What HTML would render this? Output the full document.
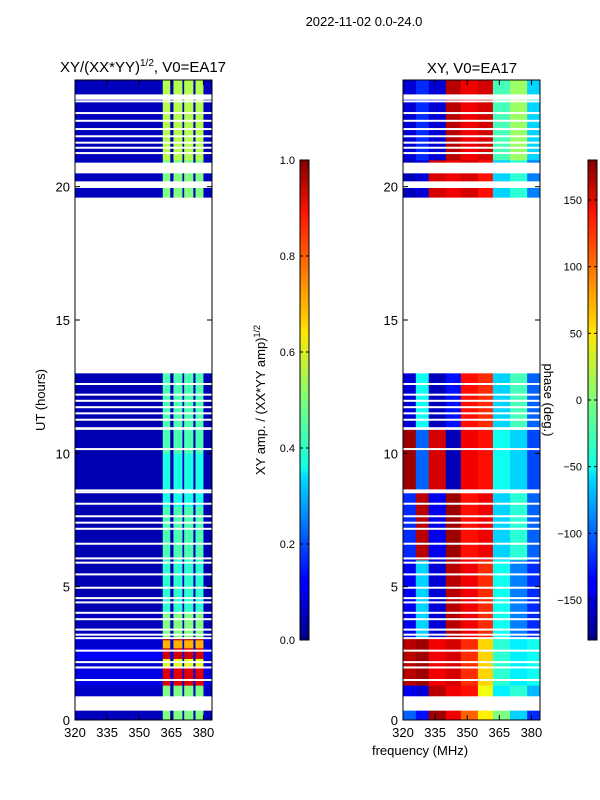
<!DOCTYPE html>
<html><head><meta charset="utf-8"><style>
body{margin:0;background:#fff;}
svg{display:block;font-family:"Liberation Sans","DejaVu Sans",sans-serif;}
</style></head><body>
<svg id="fig" width="600" height="800" viewBox="0 0 600 800">
<defs>
<linearGradient id="jet" x1="0" y1="1" x2="0" y2="0">
<stop offset="0" stop-color="#00007f"/><stop offset="0.11" stop-color="#0000ff"/><stop offset="0.125" stop-color="#0000ff"/>
<stop offset="0.34" stop-color="#00dbff"/><stop offset="0.36" stop-color="#0fffe7"/><stop offset="0.5" stop-color="#7dff7a"/>
<stop offset="0.64" stop-color="#ffe600"/><stop offset="0.66" stop-color="#ffd400"/><stop offset="0.89" stop-color="#ff1300"/>
<stop offset="1" stop-color="#7f0000"/>
</linearGradient>
</defs>
<text x="364" y="26" font-size="13" text-anchor="middle">2022-11-02 0.0-24.0</text>
<text x="143" y="72" font-size="15" text-anchor="middle">XY/(XX*YY)<tspan font-size="10" dy="-6">1/2</tspan><tspan dy="6">, V0=EA17</tspan></text>
<text x="472" y="73" font-size="15" text-anchor="middle">XY, V0=EA17</text>
<text transform="translate(45,400) rotate(-90)" font-size="13" text-anchor="middle">UT (hours)</text>
<text x="420" y="755" font-size="13" text-anchor="middle">frequency (MHz)</text>
<text transform="translate(265,400) rotate(-90)" font-size="13" text-anchor="middle">XY amp. / (XX*YY amp)<tspan font-size="9" dy="-5">1/2</tspan></text>
<g id="left"></g>
<g id="right"></g>
<text transform="translate(544,400) rotate(90)" font-size="13" text-anchor="middle">phase (deg.)</text>
<g id="axes"></g>
<rect x="300" y="160" width="9" height="480" fill="url(#jet)" stroke="#000" stroke-width="1"/>
<rect x="588" y="160" width="9" height="480" fill="url(#jet)" stroke="#000" stroke-width="1"/>
<g id="cb"></g>
</svg>
<script>
// ---- data ----
const ampFreqEdges=[320,361,364.5,366,370.2,371,375.3,376.3,380,384];
const ampSegStart=[0,0.9,1.3,2.0,2.3,2.7,3.0,3.1,4,6,8,10,19.6,21];
const ampSegEnd=[0.35,1.3,2.0,2.3,2.7,3.0,3.1,4,6,8,10,13,21,24];
const ampStripe=[0.5,0.5,0.9,0.6,0.92,0.7,0.95,0.5,0.42,0.45,0.4,0.45,0.5,0.55];
const ampBase=[0.06,0.07,0.1,0.08,0.12,0.08,0.1,0.06,0.05,0.05,0.05,0.05,0.06,0.06];
const phFreqEdges=[320,326,332,340,347,355,362,370,378,384];
const phSegStart=[0,0.9,1.3,3.1,6,8.6,10.9,19.6,21];
const phSegEnd=[0.35,1.3,3.1,6,8.6,10.9,13,21,24];
const phVals=[
[-100,-130,170,140,100,50,0,-60,-120],
[-140,-150,160,140,130,40,-50,-30,-70],
[160,170,140,150,120,60,-30,-50,-40],
[-140,-60,-150,160,140,120,-40,-90,-120],
[-120,160,-140,170,130,140,-60,-30,-100],
[170,-100,150,-160,140,130,-40,-60,-110],
[-150,-40,-160,-130,130,120,-60,-20,-100],
[-160,-150,150,140,150,130,-60,-30,-90],
[-150,-120,-150,160,140,150,-20,10,-60]];
const gapHours=[23.2,22.76,22.47,22.16,21.89,21.65,21.46,21.26,12.6,12.2,11.97,11.73,11.5,11.26,10.16,8.61,8.54,8.11,7.64,7.4,7.17,6.61,6.06,5.9,5.46,4.96,4.57,4.41,4.02,3.78,3.39,3.2,3.07,2.6,2.17,1.97,1.5];
const bigGapStart=[23.26,20.5,19.95,10.88];
const bigGapEnd=[23.46,20.9,20.2,10.98];
const yTicks=[0,5,10,15,20];
const xTicks=[320,335,350,365,380];
const ampCbTicks=[0,0.2,0.4,0.6,0.8,1.0];
const phCbTicks=[-150,-100,-50,0,50,100,150];
// ---- helpers ----
const NS="http://www.w3.org/2000/svg";
function jet(v){v=Math.max(0,Math.min(1,v));
 const r=Math.max(0,Math.min(1,1.5-Math.abs(4*v-3))),g=Math.max(0,Math.min(1,1.5-Math.abs(4*v-2))),b=Math.max(0,Math.min(1,1.5-Math.abs(4*v-1)));
 return `rgb(${Math.round(r*255)},${Math.round(g*255)},${Math.round(b*255)})`;}
const Y=h=>720-h*(640/24);
const XL=f=>75+(f-320)*(137/64);
const XR=f=>403+(f-320)*(137/64);
function mk(parent,tag,attrs){const e=document.createElementNS(NS,tag);for(const k in attrs)e.setAttribute(k,attrs[k]);parent.appendChild(e);return e;}
const L=document.getElementById('left'),R=document.getElementById('right'),A=document.getElementById('axes'),CB=document.getElementById('cb');
// amplitude heatmap
for(let s=0;s<ampSegStart.length;s++){
 for(let c=0;c<ampFreqEdges.length-1;c++){
  const v=(c%2===1)?ampStripe[s]:ampBase[s];
  const r=mk(L,'rect',{x:XL(ampFreqEdges[c]),y:Y(ampSegEnd[s]),width:XL(ampFreqEdges[c+1])-XL(ampFreqEdges[c])+0.3,height:Y(ampSegStart[s])-Y(ampSegEnd[s])+0.3,fill:jet(v)});
  
  
 }}
// phase heatmap
for(let s=0;s<phSegStart.length;s++){
 for(let c=0;c<phFreqEdges.length-1;c++){
  const r=mk(R,'rect',{x:XR(phFreqEdges[c]),y:Y(phSegEnd[s]),width:XR(phFreqEdges[c+1])-XR(phFreqEdges[c])+0.3,height:Y(phSegStart[s])-Y(phSegEnd[s])+0.3,fill:jet((phVals[s][c]+180)/360)});
  
  
 }}
// gaps
[[L,XL],[R,XR]].forEach(([g,X])=>{
 gapHours.forEach(h=>{const r=mk(g,'rect',{x:X(320),y:Y(h)-1,width:137,height:2,fill:'#fff'});
  
  });
 for(let i=0;i<bigGapStart.length;i++){const r=mk(g,'rect',{x:X(320),y:Y(bigGapEnd[i]),width:137,height:Y(bigGapStart[i])-Y(bigGapEnd[i]),fill:'#fff'});
  
  }
});
// axes
[[75,XL,'left'],[403,XR,'right']].forEach(([x0,X,nm])=>{
 const f=mk(A,'rect',{x:x0,y:80,width:137,height:640,fill:'none',stroke:'#000','stroke-width':1});
 
 
 yTicks.forEach(t=>{const y=Y(t);
  mk(A,'line',{x1:x0,y1:y,x2:x0+5,y2:y,stroke:'#000'});mk(A,'line',{x1:x0+137,y1:y,x2:x0+132,y2:y,stroke:'#000'});
  const tx=mk(A,'text',{x:x0-5,y:y+5,'font-size':13,'text-anchor':'end'});tx.textContent=t;
  
  });
 xTicks.forEach(t=>{const x=X(t);
  mk(A,'line',{x1:x,y1:720,x2:x,y2:715,stroke:'#000'});mk(A,'line',{x1:x,y1:80,x2:x,y2:85,stroke:'#000'});
  const tx=mk(A,'text',{x:x,y:737,'font-size':13,'text-anchor':'middle'});tx.textContent=t;
  
  });
});
// colorbar ticks
ampCbTicks.forEach(t=>{const y=640-t*480;
 mk(CB,'line',{x1:300,y1:y,x2:303,y2:y,stroke:'#000'});mk(CB,'line',{x1:309,y1:y,x2:306,y2:y,stroke:'#000'});
 const tx=mk(CB,'text',{x:295,y:y+4,'font-size':11,'text-anchor':'end'});tx.textContent=t.toFixed(1);
 
 });
phCbTicks.forEach(t=>{const y=400-t*(480/360);
 mk(CB,'line',{x1:588,y1:y,x2:591,y2:y,stroke:'#000'});mk(CB,'line',{x1:597,y1:y,x2:594,y2:y,stroke:'#000'});
 const tx=mk(CB,'text',{x:582,y:y+4,'font-size':11,'text-anchor':'end'});tx.textContent=t<0?'\u2212'+(-t):t;
 
 });
</script>
</body></html>
